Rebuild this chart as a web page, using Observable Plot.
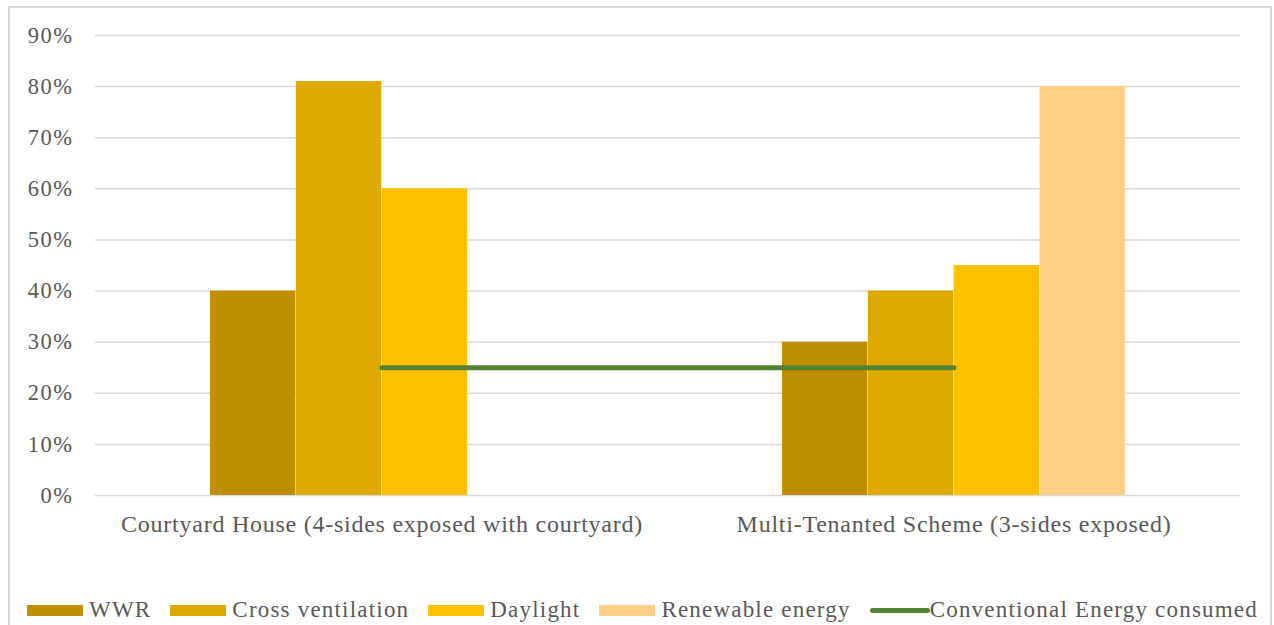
<!DOCTYPE html>
<html><head><meta charset="utf-8">
<script src="https://cdn.jsdelivr.net/npm/d3@7"></script>
<script src="https://cdn.jsdelivr.net/npm/@observablehq/plot@0.6"></script>
<style>
body{margin:0;background:#fff;width:1274px;height:625px;overflow:hidden;position:relative;font-family:"Liberation Serif","Times New Roman",serif;color:#595959}
#frame{position:absolute;left:8px;top:6px;width:1264px;height:700px;border:2px solid #d9d9d9;box-sizing:border-box}
#chart{position:absolute;left:0;top:0}
#chart g[aria-label="x-axis tick label"]{font-size:24px;letter-spacing:0.75px}
#chart g[aria-label="y-axis tick label"]{font-size:22.5px;letter-spacing:1.5px}
#legend{position:absolute;left:27px;top:597px;display:flex;align-items:center;font-size:23px;letter-spacing:1.2px;white-space:nowrap}
.item{display:flex;align-items:center;margin-right:19px}
.sw{width:56px;height:11px;margin-right:6px}
.ln{width:60px;height:5px;border-radius:3px;margin-right:0}
</style></head><body>
<div id="frame"></div><div id="chart"></div><div id="legend"></div>
<script>
const categories = ["Courtyard House (4-sides exposed with courtyard)", "Multi-Tenanted Scheme (3-sides exposed)"];
const seriesNames = ["WWR", "Cross ventilation", "Daylight", "Renewable energy"];
const wwr = [0.40, 0.30];
const crossVentilation = [0.81, 0.40];
const daylight = [0.60, 0.45];
const renewableEnergy = [0.00, 0.80];
const lineName = "Conventional Energy consumed";
const conventionalEnergy = [0.25, 0.25];
const yTicks = [0, 0.1, 0.2, 0.3, 0.4, 0.5, 0.6, 0.7, 0.8, 0.9];

const seriesValues = [wwr, crossVentilation, daylight, renewableEnergy];
const colors = ["#BF8F00", "#E0A900", "#FFC000", "#FFD085"];
const lineColor = "#548235";

const W = 1274, mL = 95, mR = 34;
const step = (W - mL - mR) / categories.length;
const padInner = 0.4;
const slot = step * (1 - padInner) / seriesNames.length;

const barMarks = seriesValues.map((vals, i) =>
  Plot.barY(categories.map((c, j) => ({category: c, value: vals[j]})), {
    x: "category", y: "value", fill: colors[i],
    insetLeft: i * slot, insetRight: (seriesNames.length - 1 - i) * slot
  })
);
const lineData = categories.map((c, j) => ({category: c, value: conventionalEnergy[j]}));

const chart = Plot.plot({
  width: W, height: 560,
  marginLeft: mL, marginRight: mR, marginTop: 35, marginBottom: 65,
  style: {fontFamily: '"Liberation Serif","Times New Roman",serif', fontSize: "22px", color: "#595959", background: "transparent"},
  x: {type: "band", domain: categories, paddingInner: padInner, paddingOuter: padInner / 2},
  y: {domain: [0, 0.9]},
  marks: [
    Plot.gridY(yTicks, {stroke: "#d9d9d9", strokeOpacity: 1, strokeWidth: 1.5}),
    ...barMarks,
    Plot.lineY(lineData, {x: "category", y: "value", stroke: lineColor, strokeWidth: 5, strokeLinecap: "round"}),
    Plot.axisY({ticks: yTicks, tickSize: 0, tickPadding: 22, tickFormat: d3.format(".0%"), label: null}),
    Plot.axisX({tickSize: 0, tickPadding: 19, label: null})
  ]
});
document.getElementById("chart").appendChild(chart);

const legend = d3.select("#legend");
seriesNames.forEach((n, i) => {
  const it = legend.append("div").attr("class", "item");
  it.append("div").attr("class", "sw").style("background", colors[i]);
  it.append("span").text(n);
});
const li = legend.append("div").attr("class", "item");
li.append("div").attr("class", "ln").style("background", lineColor);
li.append("span").text(lineName);
</script>
</body></html>
